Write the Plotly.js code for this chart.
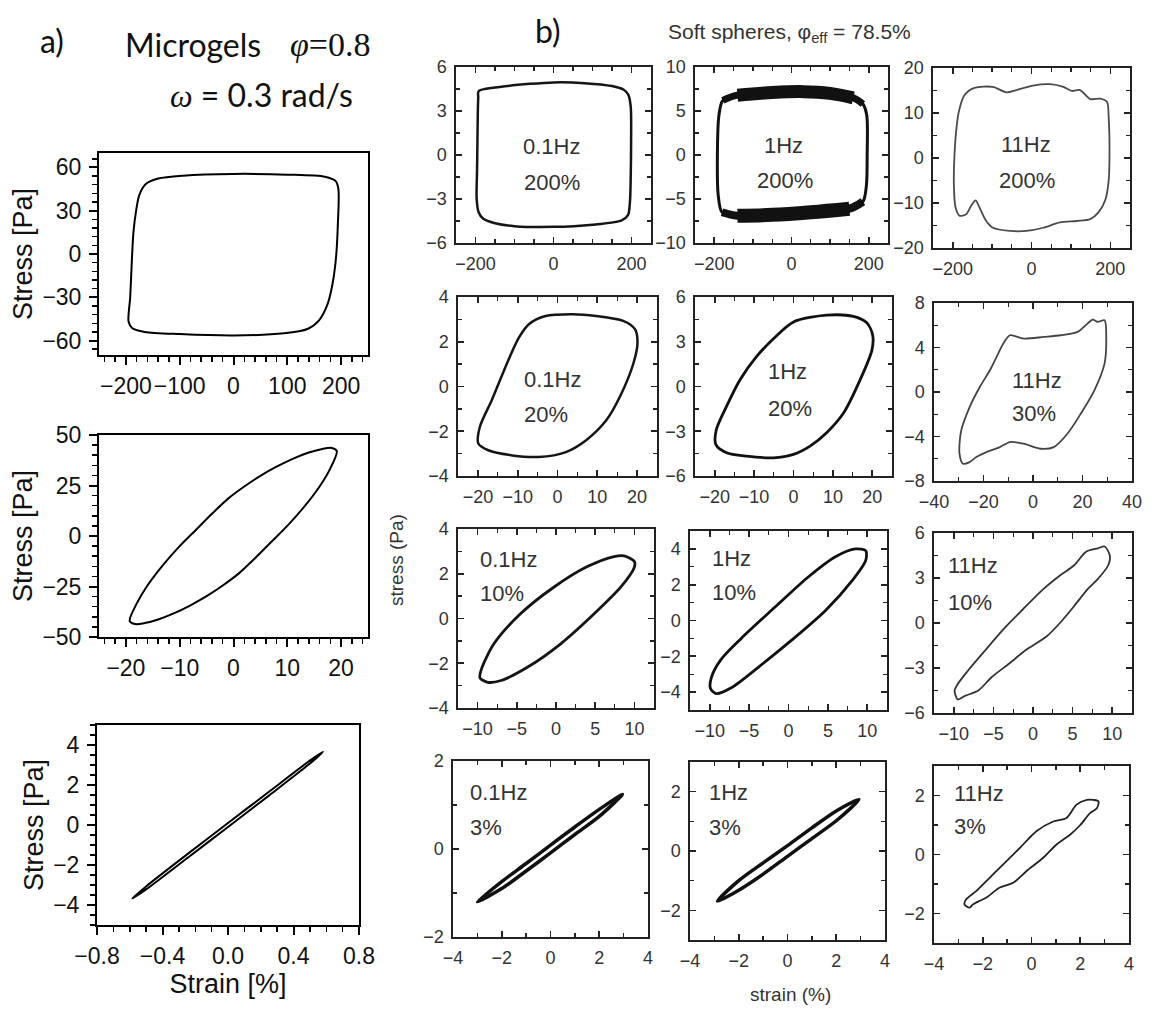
<!DOCTYPE html>
<html><head><meta charset="utf-8">
<script src="https://cdn.plot.ly/plotly-3.0.1.min.js"></script>
<style>html,body{margin:0;padding:0;background:#fff}#chart{width:1156px;height:1010px}</style>
</head><body><div id="chart"></div>
<script>
// ---------- data ----------
// Panel a: microgels, phi = 0.8, omega = 0.3 rad/s
const a1Strain = [195, 190, 170, 100, 0, -94, -140, -163, -175, -181, -186, -189, -192, -195, -188, -165, -100, 0, 94, 137.5, 159, 175, 184, 190.6, 194, 195];
const a1Stress = [45, 50.5, 53.5, 55, 55.5, 54.3, 52.3, 48.5, 41, 30, 15, -5, -30, -47, -51.5, -54, -55.5, -56.5, -55, -52, -46, -34.6, -20.8, -2.3, 20.8, 45];
const a2Strain = [-19.3, -18, -16, -13, -10, -7, -4, -1, 2, 5, 8, 11, 14, 16.5, 18.3, 19.2, 18, 16, 13, 10, 7, 4, 1, -2, -5, -8, -11, -14, -16.5, -18.3, -19.3];
const a2Stress = [-42, -33.5, -24.5, -14, -5, 3, 11, 18.5, 24.5, 29.8, 34.3, 38.2, 41.3, 43.1, 43.6, 42, 33.5, 24.5, 14, 5, -3, -11, -18.5, -24.5, -29.8, -34.3, -38.2, -41.3, -43.1, -43.6, -42];
const a3Strain = [-0.585, -0.5, -0.25, 0, 0.25, 0.5, 0.58, 0.5, 0.25, 0, -0.25, -0.5, -0.585];
const a3Stress = [-3.67, -3.07, -1.47, 0.1, 1.66, 3.22, 3.66, 3.07, 1.47, -0.1, -1.66, -3.22, -3.67];

// Panel b: soft spheres, phi_eff = 78.5 %
const b11Strain = [-192, -150, -60, 0, 80, 150, 180, 192, 198, 199, 198, 196, 191, 175, 100, 0, -100, -150, -180, -192, -197, -196, -195, -194, -193, -192];
const b11Stress = [4.35, 4.6, 4.85, 4.95, 4.9, 4.7, 4.45, 4.1, 3.3, 1, -1.5, -3.2, -4.1, -4.45, -4.75, -4.9, -4.85, -4.65, -4.35, -3.9, -3, -1, 1, 3, 3.9, 4.35];
const b12Strain = [-190, -192, -188, -178, -140, -50, 30, 100, 160, 185, 195, 196, 194, 185, 150, 50, -50, -140, -180, -190];
const b12Stress = [-4.5, 0, 4.5, 6.2, 6.8, 7.1, 7.2, 7, 6.5, 5.8, 4.5, 0, -3.5, -5.3, -6.1, -6.5, -6.8, -6.9, -6.5, -4.5];
const b13Strain = [-196, -191.5, -184.7, -170, -144.7, -98, -64, -38, 4, 47, 81, 102, 123, 149, 174.5, 191.5, 196, 198, 196, 187, 170, 149, 115, 72, 30, -13, -55, -98, -115, -132, -142, -153, -166, -183, -193, -197, -196];
const b13Stress = [-0.4, 5.7, 10.2, 14, 15.6, 15.8, 14.6, 15.1, 16.1, 16.4, 15.8, 14.9, 15.1, 13.1, 13.2, 12.5, 8.7, 1.9, -4.9, -9.4, -12.1, -13.6, -14, -14.3, -15.5, -16.2, -16.2, -15.5, -14, -11, -9.4, -10.6, -12.5, -12.8, -10.9, -6, -0.4];
const b21Strain = [-19.9, -19.5, -16.5, -12.3, -9.7, -7.2, -3, 3.8, 9.7, 16.5, 19.5, 20.1, 19.1, 15.7, 12.3, 7.2, 2.1, -4.7, -11.4, -17.4, -19.9];
const b21Stress = [-2.55, -1.8, -0.6, 1.2, 2.18, 2.78, 3.15, 3.23, 3.15, 2.93, 2.55, 1.95, 1.05, -0.45, -1.5, -2.4, -2.93, -3.15, -3.08, -2.85, -2.55];
const b22Strain = [-19.7, -19.6, -17, -13.6, -9.4, -5.1, 0, 8.4, 15.2, 18.6, 20.1, 19.9, 16.9, 12.7, 8.4, 4.2, 0, -5.1, -11.9, -17, -19.7];
const b22Stress = [-3.9, -2.9, -1.33, 0.44, 2, 3.2, 4.33, 4.78, 4.7, 4.27, 3.44, 2.44, 0.44, -1.78, -3.1, -4, -4.55, -4.78, -4.67, -4.44, -3.9];
const b23Strain = [-9.3, -3.8, 4.4, 11.2, 18, 22, 24.1, 26.2, 28.9, 29.6, 28.9, 24.8, 19.3, 13.9, 8.4, 3, -3.8, -9.3, -13.4, -18.8, -22.9, -25.6, -28.3, -29.7, -29, -25.6, -21.5, -17.4, -14.7, -12, -9.3];
const b23Stress = [5.1, 4.8, 4.95, 5.1, 5.4, 6.15, 6.5, 6.3, 6.45, 4.65, 2.55, 0.15, -1.95, -3.75, -4.95, -5.1, -4.65, -4.5, -4.95, -5.4, -5.85, -6.3, -6.45, -5.55, -3.45, -1.35, 0.45, 1.95, 3.15, 4.35, 5.1];
const b31Strain = [10, 8.7, 7.4, 4, -0.2, -4.5, -7.9, -9.5, -9.7, -8.7, -7, -3.6, 0.64, 4.9, 8.3, 10, 10];
const b31Stress = [2.55, 2.8, 2.77, 2.32, 1.42, 0.22, -1.12, -2.25, -2.65, -2.85, -2.77, -2.17, -1.12, 0.22, 1.42, 2.3, 2.55];
const b32Strain = [9.8, 8.5, 5.9, 2.5, -1.7, -6, -8.6, -9.8, -9.9, -9.2, -7.2, -3.8, 0.4, 4.7, 8.1, 9.8, 9.8];
const b32Stress = [3.9, 4.0, 3.55, 2.43, 0.75, -1.0, -2.2, -3.2, -3.8, -4.08, -3.74, -2.6, -1.1, 0.56, 2.24, 3.36, 3.9];
const b33Strain = [9.05, 9.7, 9.5, 8.2, 6.9, 5.2, 3.4, 1.7, -0.9, -3, -5.2, -6.9, -8.6, -9.5, -9.9, -9.5, -8.2, -6, -3.4, -1.3, 1.3, 3.4, 5.2, 6.7, 8.2, 9.05];
const b33Stress = [5.1, 4.5, 3.85, 2.94, 2.26, 1.13, 0, -0.9, -1.8, -2.7, -3.6, -4.5, -4.86, -5.1, -4.5, -4.07, -3.17, -1.8, -0.23, 0.9, 2.26, 3.17, 3.85, 4.75, 4.98, 5.1];
const b41Strain = [-3, -2, -1, 0, 1, 2, 2.95, 2, 1, 0, -1, -2, -3];
const b41Stress = [-1.2, -0.74, -0.33, 0.09, 0.5, 0.9, 1.24, 0.74, 0.33, -0.09, -0.5, -0.9, -1.2];
const b42Strain = [-2.87, -2, -1, 0, 1, 2, 2.93, 2, 1, 0, -1, -2, -2.87];
const b42Stress = [-1.69, -1.0, -0.4, 0.18, 0.78, 1.35, 1.74, 1.02, 0.42, -0.18, -0.78, -1.32, -1.69];
const b43Strain = [2.54, 2.75, 2.68, 2.4, 2, 1.58, 1.03, 0.48, -0.2, -0.75, -1.3, -1.85, -2.13, -2.4, -2.54, -2.75, -2.68, -2.27, -1.72, -1.17, -0.48, 0.2, 0.89, 1.44, 1.85, 2.27, 2.54];
const b43Stress = [1.85, 1.8, 1.57, 1.4, 1.0, 0.67, 0.34, -0.11, -0.56, -0.96, -1.12, -1.46, -1.57, -1.69, -1.8, -1.69, -1.52, -1.24, -0.79, -0.34, 0.22, 0.79, 1.12, 1.24, 1.69, 1.85, 1.85];

// labels drawn inside the panel-b plots: [frequency, amplitude]
const bLabels = [
  ['0.1Hz', '200%'], ['1Hz', '200%'], ['11Hz', '200%'],
  ['0.1Hz', '20%'], ['1Hz', '20%'], ['11Hz', '30%'],
  ['0.1Hz', '10%'], ['1Hz', '10%'], ['11Hz', '10%'],
  ['0.1Hz', '3%'], ['1Hz', '3%'], ['11Hz', '3%']
];

// ---------- layout / styling ----------
const W = 1156, H = 1010;
const panels = [
  {x: a1Strain, y: a1Stress, box: [99, 368, 153, 355], xr: [-250, 250], yr: [-70, 70], xt: 100, xm: 20, yt: 30, ym: 6, kind: 'a'},
  {x: a2Strain, y: a2Stress, box: [99, 368, 435, 637], xr: [-25, 25], yr: [-50, 50], xt: 10, xm: 2, yt: 25, ym: 5, kind: 'a'},
  {x: a3Strain, y: a3Stress, box: [97, 359, 725, 925], xr: [-0.8, 0.8], yr: [-5, 5], xt: 0.4, xm: 0.1, yt: 2, ym: 0.5, kind: 'a', xfmt: '.1f', xtitle: 'Strain [%]'},
  {x: b11Strain, y: b11Stress, box: [456, 651, 67, 243], xr: [-250, 250], yr: [-6, 6], xt: 200, xm: 50, yt: 3, ym: 1.5, lc: '#151515', lw: 2.5, lab: [[-5, 0.55], [-5, -1.85], 'c']},
  {x: b12Strain, y: b12Stress, box: [695, 888, 67, 243], xr: [-250, 250], yr: [-10, 10], xt: 200, xm: 50, yt: 5, ym: 2.5, lc: '#111', lw: 3, lab: [[-22, 1.1], [-16, -2.9], 'c']},
  {x: b13Strain, y: b13Stress, box: [933, 1130, 68, 248], xr: [-250, 250], yr: [-20, 20], xt: 200, xm: 50, yt: 10, ym: 5, lc: '#4a4a4a', lw: 1.8, lab: [[-15, 3], [-12, -4.9], 'c']},
  {x: b21Strain, y: b21Stress, box: [458, 657, 297, 476], xr: [-25, 25], yr: [-4, 4], xt: 10, xm: 5, yt: 2, ym: 1, lc: '#151515', lw: 2.5, lab: [[-9, 0.3], [-9, -1.25], 'l']},
  {x: b22Strain, y: b22Stress, box: [695, 892, 297, 476], xr: [-25, 25], yr: [-6, 6], xt: 10, xm: 5, yt: 3, ym: 1.5, lc: '#111', lw: 2.8, lab: [[-7, 1.0], [-7, -1.45], 'l']},
  {x: b23Strain, y: b23Stress, box: [934, 1132, 303, 481], xr: [-40, 40], yr: [-8, 8], xt: 20, xm: 10, yt: 4, ym: 2, lc: '#444', lw: 1.8, lab: [[1.5, 1.05], [0.5, -1.95], 'c']},
  {x: b31Strain, y: b31Stress, box: [458, 654, 529, 708], xr: [-12.5, 12.5], yr: [-4, 4], xt: 5, xm: 2.5, yt: 2, ym: 1, lc: '#151515', lw: 2.8, lab: [[-9.9, 2.62], [-9.9, 1.12], 'l']},
  {x: b32Strain, y: b32Stress, box: [690, 887, 531, 710], xr: [-12.5, 12.5], yr: [-5, 5], xt: 5, xm: 2.5, yt: 2, ym: 1, lc: '#111', lw: 2.8, lab: [[-9.9, 3.46], [-9.9, 1.59], 'l']},
  {x: b33Strain, y: b33Stress, box: [934, 1132, 533, 713], xr: [-12.5, 12.5], yr: [-6, 6], xt: 5, xm: 2.5, yt: 3, ym: 1.5, lc: '#333', lw: 1.8, lab: [[-11, 3.85], [-11, 1.36], 'l']},
  {x: b41Strain, y: b41Stress, box: [453, 648, 761, 937], xr: [-4, 4], yr: [-2, 2], xt: 2, xm: 1, yt: 2, ym: 1, lc: '#111', lw: 3.5, lab: [[-3.4, 1.28], [-3.4, 0.48], 'l']},
  {x: b42Strain, y: b42Stress, box: [690, 885, 762, 940], xr: [-4, 4], yr: [-3, 3], xt: 2, xm: 1, yt: 2, ym: 1, lc: '#111', lw: 3.5, lab: [[-3.3, 1.97], [-3.3, 0.79], 'l']},
  {x: b43Strain, y: b43Stress, box: [934, 1129, 766, 943], xr: [-4, 4], yr: [-3, 3], xt: 2, xm: 1, yt: 2, ym: 1, lc: '#222', lw: 1.8, lab: [[-3.26, 2.08], [-3.26, 0.96], 'l']}
];

const traces = [];
const layout = {
  width: W, height: H, margin: {l: 0, r: 0, t: 0, b: 0},
  paper_bgcolor: '#fff', plot_bgcolor: '#fff', showlegend: false,
  annotations: [], font: {family: 'Liberation Sans, Arial, sans-serif'}
};

panels.forEach((p, i) => {
  const n = i + 1, sx = n === 1 ? '' : String(n);
  const [l, r, t, b] = p.box;
  const isA = p.kind === 'a';
  const col = isA ? '#000' : '#222';
  const tickDir = isA ? 'outside' : 'inside';
  const base = {
    showgrid: false, zeroline: false, showline: true, mirror: isA ? true : 'ticks',
    linecolor: col, linewidth: isA ? 2 : 1.6,
    ticks: tickDir, ticklen: isA ? 8 : 6, tickwidth: isA ? 2 : 1.6, tickcolor: col, tickangle: 0,
    tickfont: isA ? {family: 'Liberation Sans, Arial', size: 23, color: '#111'} : {family: 'Liberation Sans, Arial', size: 18, color: '#333'},
    fixedrange: true
  };
  const xd = [l / W, r / W], yd = [1 - b / H, 1 - t / H];
  layout['xaxis' + sx] = Object.assign({}, base, {
    domain: xd, anchor: 'y' + sx, range: p.xr, dtick: p.xt, tick0: 0,
    minor: {dtick: p.xm, ticks: tickDir, ticklen: isA ? 5 : 4, tickwidth: isA ? 1.5 : 1.3, tickcolor: col},
    tickformat: p.xfmt || '', ticklabelstandoff: isA ? 1 : 4
  });
  if (p.xtitle) layout['xaxis' + sx].title = {text: p.xtitle, font: {family: 'Liberation Sans, Arial', size: 27, color: '#111'}, standoff: 5};
  layout['yaxis' + sx] = Object.assign({}, base, {
    domain: yd, anchor: 'x' + sx, range: p.yr, dtick: p.yt, tick0: 0,
    minor: {dtick: p.ym, ticks: tickDir, ticklen: isA ? 5 : 4, tickwidth: isA ? 1.5 : 1.3, tickcolor: col},
    ticklabelstandoff: isA ? 3 : 4
  });
  if (isA) layout['yaxis' + sx].title = {text: 'Stress [Pa]', font: {family: 'Liberation Sans, Arial', size: 27, color: '#111'}, standoff: 2};

  traces.push({
    type: 'scatter', mode: 'lines', x: p.x, y: p.y, xaxis: 'x' + sx, yaxis: 'y' + sx,
    line: {color: isA ? '#000' : p.lc, width: isA ? 2 : p.lw, shape: 'spline', smoothing: 0.8},
    hoverinfo: 'skip'
  });

  if (!isA) {
    const labs = bLabels[i - 3];
    const al = p.lab[2] === 'l' ? 'left' : 'center';
    [0, 1].forEach(k => {
      layout.annotations.push({
        xref: 'x' + sx, yref: 'y' + sx, x: p.lab[k][0], y: p.lab[k][1], text: labs[k],
        showarrow: false, xanchor: al, yanchor: 'middle',
        font: {family: 'Liberation Sans, Arial', size: 22, color: '#333'}
      });
    });
  }
});

// noisy thick top/bottom bands of the 1 Hz, 200 % loop (tapered)
traces.push({type: 'scatter', mode: 'lines', x: b12Strain.slice(3, 10), y: b12Stress.slice(3, 10), xaxis: 'x5', yaxis: 'y5',
  line: {color: '#111', width: 7, shape: 'spline'}, hoverinfo: 'skip'});
traces.push({type: 'scatter', mode: 'lines', x: b12Strain.slice(4, 9), y: b12Stress.slice(4, 9), xaxis: 'x5', yaxis: 'y5',
  line: {color: '#111', width: 13, shape: 'spline'}, hoverinfo: 'skip'});
traces.push({type: 'scatter', mode: 'lines', x: b12Strain.slice(13, 19), y: b12Stress.slice(13, 19), xaxis: 'x5', yaxis: 'y5',
  line: {color: '#111', width: 8, shape: 'spline'}, hoverinfo: 'skip'});
traces.push({type: 'scatter', mode: 'lines', x: b12Strain.slice(14, 18), y: b12Stress.slice(14, 18), xaxis: 'x5', yaxis: 'y5',
  line: {color: '#111', width: 14, shape: 'spline'}, hoverinfo: 'skip'});

// header texts and shared panel-b axis titles
const paperText = (x, y, text, font, xanchor, extra) => Object.assign({
  xref: 'paper', yref: 'paper', x: x / W, y: 1 - y / H, text, showarrow: false,
  xanchor: xanchor || 'left', yanchor: 'middle', font
}, extra || {});
const calib = {family: 'Lato, Open Sans, sans-serif', size: 32, color: '#111'};
layout.annotations.push(
  paperText(38, 40, 'a)', calib),
  paperText(123, 44, 'Microgels', calib),
  paperText(288, 44, '<i>φ</i>=0.8', {family: 'Liberation Serif, serif', size: 34, color: '#111'}),
  paperText(168, 95, '<i><span style="font-family:Liberation Serif">ω</span></i> = 0.3 rad/s', calib),
  paperText(533, 30, 'b)', calib),
  paperText(666, 33, 'Soft spheres, φ<sub>eff</sub> = 78.5%', {family: 'Liberation Sans, Arial', size: 21, color: '#333'}),
  paperText(396, 560, 'stress (Pa)', {family: 'Liberation Sans, Arial', size: 19, color: '#333'}, 'center', {textangle: -90}),
  paperText(790, 994, 'strain (%)', {family: 'Liberation Sans, Arial', size: 19, color: '#333'}, 'center')
);

Plotly.newPlot('chart', traces, layout, {staticPlot: true, displayModeBar: false});
</script>
</body></html>
